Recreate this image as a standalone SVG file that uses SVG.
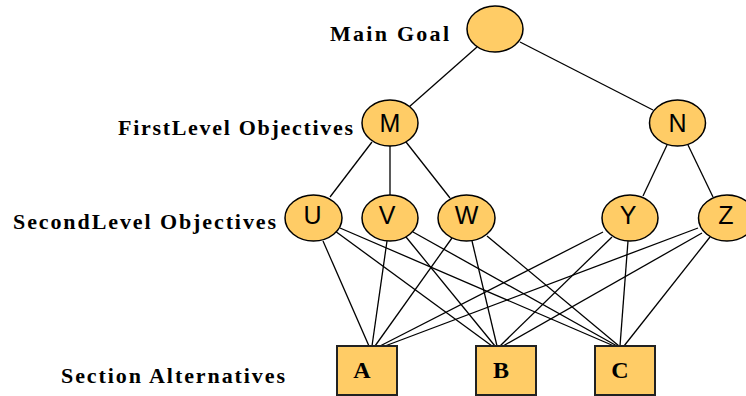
<svg xmlns="http://www.w3.org/2000/svg" width="746" height="396" viewBox="0 0 746 396">
<style>
.node{fill:#FFCC66;stroke:#000;stroke-width:1.5}
.box{fill:#FFCC66;stroke:#222;stroke-width:2}
.lt{font-family:"Liberation Sans",Arial,sans-serif;font-size:25px;fill:#000;text-anchor:middle}
.bt{font-family:"Liberation Serif","Times New Roman",serif;font-size:24px;font-weight:bold;fill:#000;text-anchor:middle}
.lab{font-family:"Liberation Serif","Times New Roman",serif;font-size:22px;font-weight:bold;fill:#000}
.edges line{stroke:#000;stroke-width:1.3}
</style>
<rect width="746" height="396" fill="#fff"/>
<g class="labels">
<text class="lab" x="330" y="41" textLength="119" lengthAdjust="spacing">Main Goal</text>
<text class="lab" x="118" y="135" textLength="235" lengthAdjust="spacing">FirstLevel Objectives</text>
<text class="lab" x="13" y="229" textLength="263" lengthAdjust="spacing">SecondLevel Objectives</text>
<text class="lab" x="61" y="383" textLength="224" lengthAdjust="spacing">Section Alternatives</text>
</g>
<g class="edges">
<line x1="477" y1="47" x2="409" y2="107"/>
<line x1="520" y1="42" x2="653" y2="110"/>
<line x1="372" y1="142" x2="330" y2="197"/>
<line x1="390" y1="146" x2="390" y2="195"/>
<line x1="406" y1="142" x2="450" y2="198"/>
<line x1="667" y1="145" x2="643" y2="196"/>
<line x1="688" y1="145" x2="713" y2="197"/>
<line x1="323" y1="241" x2="369" y2="346"/>
<line x1="387" y1="241" x2="372" y2="346"/>
<line x1="452" y1="238" x2="375" y2="346"/>
<line x1="603" y1="232" x2="380" y2="346"/>
<line x1="698" y1="228" x2="385" y2="346"/>
<line x1="335" y1="231" x2="492" y2="346"/>
<line x1="406" y1="237" x2="495" y2="346"/>
<line x1="472" y1="241" x2="497" y2="346"/>
<line x1="612" y1="237" x2="500" y2="346"/>
<line x1="702" y1="233" x2="503" y2="346"/>
<line x1="340" y1="228" x2="614" y2="346"/>
<line x1="413" y1="232" x2="617" y2="346"/>
<line x1="487" y1="236" x2="619" y2="346"/>
<line x1="628" y1="241" x2="620" y2="346"/>
<line x1="710" y1="237" x2="624" y2="346"/>
</g>
<g id="goal"><ellipse class="node" cx="495" cy="29" rx="28" ry="23"/></g>
<g id="M"><ellipse class="node" cx="390" cy="123" rx="28" ry="23"/><text class="lt" x="390" y="132">M</text></g>
<g id="N"><ellipse class="node" cx="677.5" cy="123" rx="28" ry="23"/><text class="lt" x="677.5" y="132">N</text></g>
<g id="U"><ellipse class="node" cx="313.5" cy="218" rx="28.5" ry="23"/><text class="lt" x="312.5" y="224">U</text></g>
<g id="V"><ellipse class="node" cx="390" cy="218" rx="28" ry="23"/><text class="lt" x="387" y="224">V</text></g>
<g id="W"><ellipse class="node" cx="466.5" cy="218" rx="28.5" ry="23"/><text class="lt" x="466.5" y="224">W</text></g>
<g id="Y"><ellipse class="node" cx="630" cy="218" rx="28" ry="23"/><text class="lt" x="628" y="224">Y</text></g>
<g id="Z"><ellipse class="node" cx="727" cy="218" rx="28.5" ry="23"/><text class="lt" x="726" y="224">Z</text></g>
<g id="A"><rect class="box" x="337" y="346" width="60" height="49"/><text class="bt" x="362" y="378">A</text></g>
<g id="B"><rect class="box" x="476" y="346" width="60" height="49"/><text class="bt" x="501" y="378">B</text></g>
<g id="C"><rect class="box" x="595" y="346" width="60" height="49"/><text class="bt" x="620" y="378">C</text></g>
</svg>
